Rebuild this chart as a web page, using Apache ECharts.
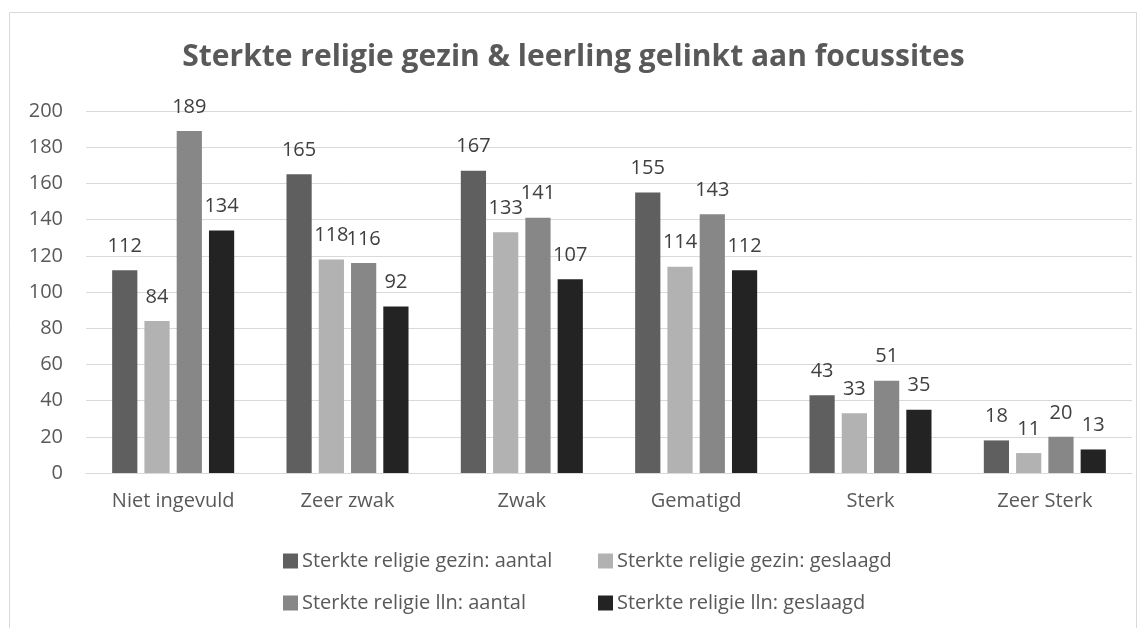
<!DOCTYPE html>
<html>
<head>
<meta charset="utf-8">
<script src="https://cdn.jsdelivr.net/npm/echarts@6/dist/echarts.min.js"></script>
<style>
  html, body { margin: 0; padding: 0; background: #fff; }
  #chart { width: 1147px; height: 628px; }
</style>
</head>
<body>
<div id="chart"></div>
<script>
// categorieen en waarden
var categories = ['Niet ingevuld', 'Zeer zwak', 'Zwak', 'Gematigd', 'Sterk', 'Zeer Sterk'];
var seriesNames = [
  'Sterkte religie gezin: aantal',
  'Sterkte religie gezin: geslaagd',
  'Sterkte religie lln: aantal',
  'Sterkte religie lln: geslaagd'
];
var gezinAantal = [112, 165, 167, 155, 43, 18];
var gezinGeslaagd = [84, 118, 133, 114, 33, 11];
var llnAantal = [189, 116, 141, 143, 51, 20];
var llnGeslaagd = [134, 92, 107, 112, 35, 13];
var yTicks = [0, 20, 40, 60, 80, 100, 120, 140, 160, 180, 200];

var colors = ['#5f5f5f', '#b2b2b2', '#878787', '#232323'];
var values = [gezinAantal, gezinGeslaagd, llnAantal, llnGeslaagd];
var fontFam = '"Open Sans", "Noto Sans", sans-serif';

var myChart = echarts.init(document.getElementById('chart'));

var series = [];
for (var i = 0; i < values.length; i++) {
  series.push({
    name: seriesNames[i],
    type: 'bar',
    data: values[i],
    barGap: '28%',
    barCategoryGap: '30%',
    itemStyle: { color: colors[i] },
    label: {
      show: true,
      position: 'top',
      distance: 14,
      color: '#404040',
      fontSize: 20,
      fontFamily: fontFam
    }
  });
}

var legendCommon = {
  orient: 'vertical',
  top: 546,
  itemGap: 22,
  itemWidth: 15,
  itemHeight: 15,
  icon: 'rect',
  textStyle: { color: '#595959', fontSize: 20, fontFamily: fontFam, padding: [0, 0, 0, -1] }
};

option = {
  animation: false,
  backgroundColor: '#fff',
  color: colors,
  title: {
    text: 'Sterkte religie gezin & leerling gelinkt aan focussites',
    left: 'center',
    top: 37,
    textStyle: { color: '#595959', fontSize: 30, fontWeight: 'bold', fontFamily: fontFam }
  },
  graphic: [{
    type: 'rect',
    shape: { x: 9.5, y: 12.5, width: 1127, height: 640 },
    style: { fill: 'none', stroke: '#d9d9d9', lineWidth: 1 },
    silent: true
  }],
  legend: [
    Object.assign({ left: 278, data: [seriesNames[0], seriesNames[2]] }, legendCommon),
    Object.assign({ left: 593, data: [seriesNames[1], seriesNames[3]] }, legendCommon)
  ],
  grid: { left: 86, right: 15, top: 111, bottom: 155 },
  xAxis: {
    type: 'category',
    data: categories,
    axisTick: { show: false },
    axisLine: { lineStyle: { color: '#d9d9d9', width: 1 } },
    axisLabel: { color: '#595959', fontSize: 20, fontFamily: fontFam, margin: 18 }
  },
  yAxis: {
    type: 'value',
    min: yTicks[0],
    max: yTicks[yTicks.length - 1],
    interval: 20,
    axisLine: { show: false },
    axisTick: { show: false },
    splitLine: { lineStyle: { color: '#d9d9d9', width: 1 } },
    axisLabel: { color: '#595959', fontSize: 20, fontFamily: fontFam, margin: 23 }
  },
  series: series
};

myChart.setOption(option);
</script>
</body>
</html>
